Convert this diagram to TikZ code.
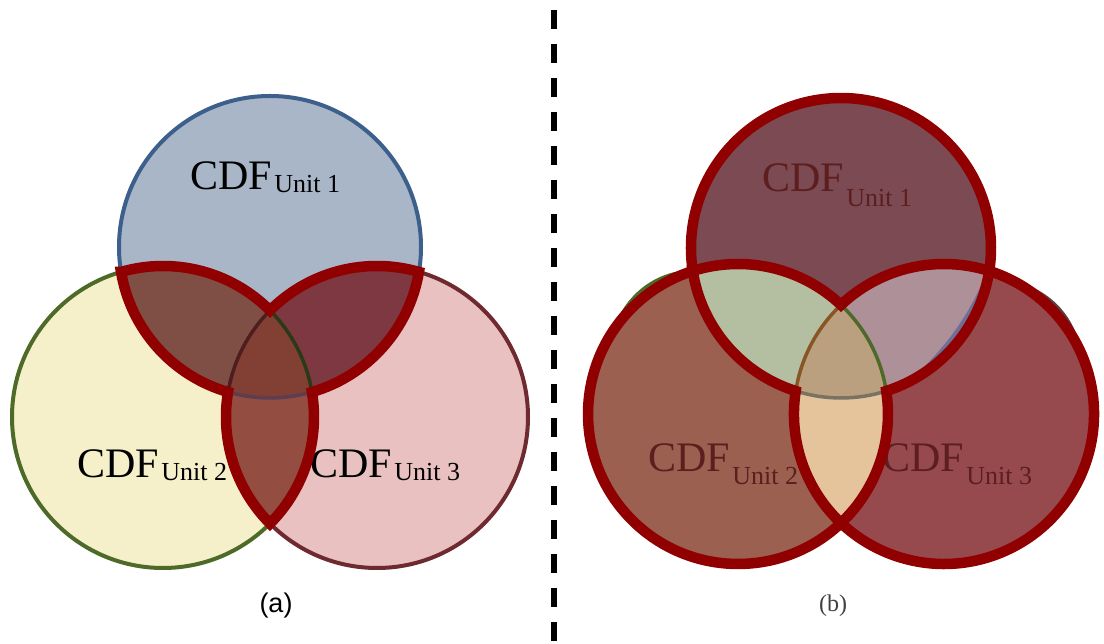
\documentclass[tikz,border=0pt]{standalone}
\usepackage{fontspec}
\setmainfont{Liberation Serif}
\newfontfamily\captionsans{Liberation Sans}
\usetikzlibrary{calc}

% base colours of the three sets
\definecolor{topfill}{HTML}{A8B6C8}
\definecolor{topline}{HTML}{3C5F8C}
\definecolor{leftfill}{HTML}{F5F0C9}
\definecolor{leftline}{HTML}{4E6A28}
\definecolor{rightfill}{HTML}{E9C1C1}
\definecolor{rightline}{HTML}{6E2A2E}
\definecolor{rimred}{HTML}{900000}
% (a) overlap shades
\definecolor{tlA}{HTML}{7F4F45}
\definecolor{trA}{HTML}{7E3841}
\definecolor{lrA}{HTML}{944E41}
\definecolor{triA}{HTML}{823F33}
% (b) shades
\definecolor{tonlyB}{HTML}{7B4A52}
\definecolor{lonlyB}{HTML}{9B6050}
\definecolor{ronlyB}{HTML}{964A4E}
\definecolor{tlB}{HTML}{B3BFA0}
\definecolor{trB}{HTML}{AE9099}
\definecolor{lrB}{HTML}{E5C49C}
\definecolor{triB}{HTML}{BBA080}
\definecolor{seambrown}{HTML}{8A5524}
\definecolor{seamgrey}{HTML}{7A7262}
\definecolor{seamblue}{HTML}{6E6E96}
\definecolor{seamdark}{HTML}{5A4040}
\definecolor{dimtext}{HTML}{5C1E1E}
\definecolor{captiongrey}{HTML}{404040}

\newcommand\unitsub[2]{\hspace{2.5pt}\raisebox{-#1pt}{\fontsize{26}{26}\selectfont Unit #2}}

\tikzset{
  rim/.style={line width=10.5pt, draw=rimred, line join=miter, miter limit=2},
  seam/.style={line width=3.5pt},
  setedge/.style={line width=4pt},
  cdf/.style={anchor=base west, inner sep=0pt, font=\fontsize{42}{42}\selectfont},
}

\begin{document}
\begin{tikzpicture}[x=1pt,y=1pt]
\useasboundingbox (0,0) rectangle (1104,644);

% ---------------- panel (a) ----------------
\coordinate (Ta) at (270,397);
\coordinate (La) at (163,227);
\coordinate (Ra) at (377,227);

\filldraw[setedge, fill=topfill,   draw=topline]   (Ta) circle[radius=151];
\filldraw[setedge, fill=leftfill,  draw=leftline]  (La) circle[radius=151];
\filldraw[setedge, fill=rightfill, draw=rightline] (Ra) circle[radius=151];

\begin{scope}\clip (Ta) circle[radius=151]; \fill[tlA] (La) circle[radius=151]; \end{scope}
\begin{scope}\clip (Ta) circle[radius=151]; \fill[trA] (Ra) circle[radius=151]; \end{scope}
\begin{scope}\clip (La) circle[radius=151]; \fill[lrA] (Ra) circle[radius=151]; \end{scope}
\begin{scope}\clip (Ta) circle[radius=151]; \clip (La) circle[radius=151];
  \fill[triA] (Ra) circle[radius=151]; \end{scope}

% set edges seen inside the triple overlap
\draw[seam, draw=rightline!70!black] ($(Ra)+(135.12:151)$) arc[start angle=135.12, end angle=170.49, radius=151];
\draw[seam, draw=leftline!55!black]  ($(La)+(44.88:151)$)  arc[start angle=44.88,  end angle=9.51,   radius=151];
\draw[seam, draw=topline!35!rightline] ($(Ta)+(253.88:151)$) arc[start angle=253.88, end angle=286.12, radius=151];

\node[cdf] (a1) at (190,454) {CDF\unitsub{3}{1}};
\node[cdf] (a2) at (77,166)  {CDF\unitsub{3}{2}};
\node[cdf] (a3) at (310,166) {CDF\unitsub{3}{3}};

% outline of the pairwise overlaps
\draw[rim] ($(La)+(106.12:151)$)
  arc[start angle=106.12, end angle=44.88,  radius=151]
  arc[start angle=135.12, end angle=73.88,  radius=151]
  arc[start angle=350.49, end angle=286.12, radius=151]
  arc[start angle=9.51,   end angle=-44.88, radius=151]
  arc[start angle=224.88, end angle=170.49, radius=151]
  arc[start angle=253.88, end angle=189.51, radius=151] -- cycle;

\node[font=\captionsans\fontsize{27}{27}\selectfont, inner sep=0pt] (capa) at (276,38) {(a)};

% ---------------- separator ----------------
\coordinate (sepTop) at (554,634);
\coordinate (sepBot) at (554,0);
\draw[line width=6pt, dash pattern=on 19.5pt off 14.5pt] (sepTop) -- (sepBot);

% ---------------- panel (b) ----------------
\coordinate (Tb) at (841,396);
\coordinate (Lb) at (738,230);
\coordinate (Rb) at (944,230);

% edge crescents peeking out past the hand-drawn rim
\fill[leftline] ($(Lb)+(126:74.5)$) circle[radius=84];
\fill[seamdark] ($(Rb)+(43:73.5)$)  circle[radius=84];

\fill[tonlyB] (Tb) circle[radius=150];
\fill[lonlyB] (Lb) circle[radius=150];
\fill[ronlyB] (Rb) circle[radius=150];

\begin{scope}\clip (Tb) circle[radius=150]; \fill[tlB] (Lb) circle[radius=150]; \end{scope}
\begin{scope}\clip (Tb) circle[radius=150]; \fill[trB] (Rb) circle[radius=150]; \end{scope}
\begin{scope}\clip (Lb) circle[radius=150]; \fill[lrB] (Rb) circle[radius=150]; \end{scope}
\begin{scope}\clip (Tb) circle[radius=150]; \clip (Lb) circle[radius=150];
  \fill[triB] (Rb) circle[radius=150]; \end{scope}

% blue edge of the top set showing inside its overlap with the right set
\begin{scope}\clip (Tb) circle[radius=150];
  \fill[seamblue, even odd rule] (Tb) circle[radius=160] ($(Tb)+(145:129.25)$) circle[radius=270];
\end{scope}

% set edges seen inside the triple overlap
\draw[seam, draw=seambrown] ($(Rb)+(133.36:150)$) arc[start angle=133.36, end angle=171.19, radius=150];
\draw[seam, draw=leftline]  ($(Lb)+(46.64:150)$)  arc[start angle=46.64,  end angle=8.81,   radius=150];
\draw[seam, draw=seamgrey]  ($(Tb)+(252.45:150)$) arc[start angle=252.45, end angle=287.55, radius=150];

\node[cdf, text=dimtext] (b1) at (762,452) {CDF\unitsub{15}{1}};
\node[cdf, text=dimtext] (b2) at (648,172) {CDF\unitsub{13}{2}};
\node[cdf, text=dimtext] (b3) at (882,172) {CDF\unitsub{13}{3}};

% outer boundary of the three sets
\draw[rim] ($(Tb)+(188.81:150)$)
  arc[start angle=188.81, end angle=-8.81,   radius=150]
  arc[start angle=72.45,  end angle=-133.36, radius=150]
  arc[start angle=-46.64, end angle=-252.45, radius=150] -- cycle;
% outline of the pairwise overlaps
\draw[rim] ($(Lb)+(107.55:150)$)
  arc[start angle=107.55, end angle=46.64,  radius=150]
  arc[start angle=133.36, end angle=72.45,  radius=150]
  arc[start angle=351.19, end angle=287.55, radius=150]
  arc[start angle=8.81,   end angle=-46.64, radius=150]
  arc[start angle=226.64, end angle=171.19, radius=150]
  arc[start angle=252.45, end angle=188.81, radius=150] -- cycle;

\node[font=\fontsize{24}{24}\selectfont, text=captiongrey, inner sep=0pt] (capb) at (833,38) {(b)};
\end{tikzpicture}
\end{document}
